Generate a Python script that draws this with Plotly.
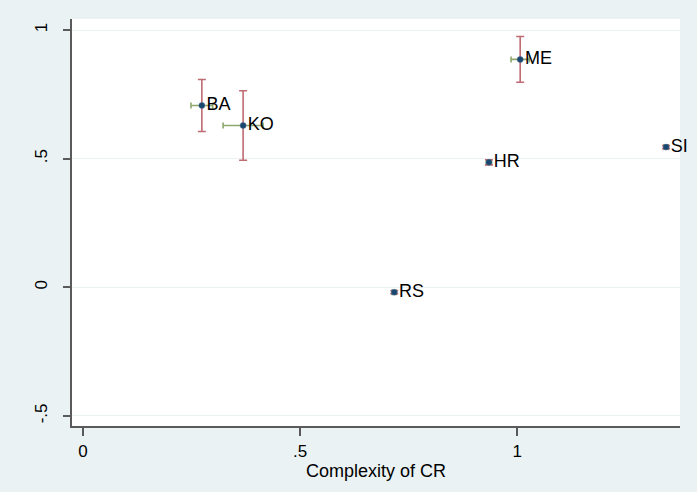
import plotly.graph_objects as go

countries = ["BA", "KO", "ME", "HR", "SI", "RS"]
complexity = [0.274, 0.369, 1.007, 0.935, 1.343, 0.717]
outcome = [0.707, 0.629, 0.886, 0.486, 0.545, -0.019]
err_y = [0.101, 0.135, 0.089, 0.010, 0.006, 0.006]
err_x = [0.025, 0.046, 0.021, 0.006, 0.005, 0.005]

x_tickvals = [0, 0.5, 1]
x_ticktext = ["0", ".5", "1"]
y_tickvals = [-0.5, 0, 0.5, 1]
y_ticktext = ["-.5", "0", ".5", "1"]

BG = "#EAF2F3"
FONT = "Liberation Sans, Arial, sans-serif"

fig = go.Figure()
# horizontal (green) intervals
fig.add_trace(go.Scatter(
    x=complexity, y=outcome, mode="markers",
    marker=dict(size=1, color="rgba(0,0,0,0)"),
    error_x=dict(type="data", array=err_x, color="#8EA86D", thickness=1.6, width=3),
    hoverinfo="skip", showlegend=False))
# vertical (red) intervals
fig.add_trace(go.Scatter(
    x=complexity, y=outcome, mode="markers",
    marker=dict(size=1, color="rgba(0,0,0,0)"),
    error_y=dict(type="data", array=err_y, color="#BF6B72", thickness=1.6, width=4),
    hoverinfo="skip", showlegend=False))
# points and labels
fig.add_trace(go.Scatter(
    x=complexity, y=outcome, mode="markers+text", text=countries,
    textposition="middle right", cliponaxis=False,
    textfont=dict(family=FONT, size=18, color="black"),
    marker=dict(size=6, color="#1A476F", line=dict(color="#4A6F8F", width=0.5)),
    showlegend=False))

fig.update_layout(
    width=697, height=492,
    paper_bgcolor=BG, plot_bgcolor="white",
    margin=dict(l=72, r=17, t=19, b=66),
    font=dict(family=FONT, size=17, color="black"),
)
fig.update_xaxes(
    range=[-0.025, 1.375], tickvals=x_tickvals, ticktext=x_ticktext,
    showgrid=False, zeroline=False,
    showline=True, linecolor="#5A5A5A", linewidth=1.5,
    ticks="outside", ticklen=8, tickcolor="#5A5A5A", tickwidth=1.5,
    tickfont=dict(size=17), ticklabelstandoff=1,
    title=dict(text="Complexity of CR", font=dict(size=18), standoff=1),
)
fig.update_yaxes(
    range=[-0.539, 1.043], tickvals=y_tickvals, ticktext=y_ticktext,
    showgrid=True, gridcolor=BG, gridwidth=1.2, zeroline=False,
    showline=True, linecolor="#5A5A5A", linewidth=1.5,
    ticks="outside", ticklen=7, tickcolor="#5A5A5A", tickwidth=1.5,
    tickangle=-90, tickfont=dict(size=17), ticklabelstandoff=9,
)

fig.write_html("out.html")
